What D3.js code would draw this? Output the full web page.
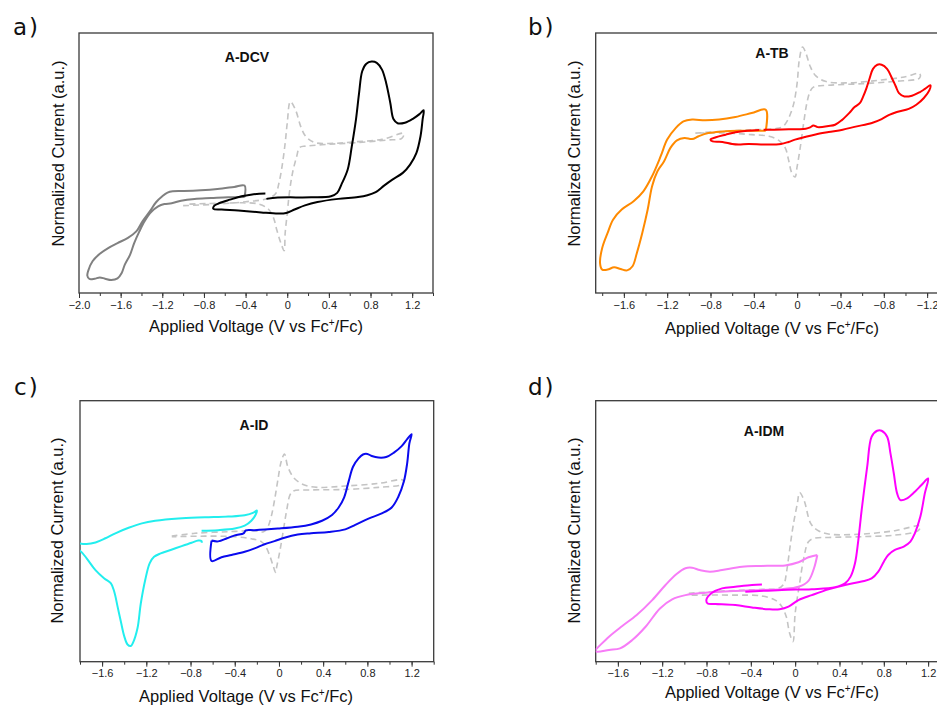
<!DOCTYPE html>
<html><head><meta charset="utf-8">
<script src="https://cdn.jsdelivr.net/npm/d3@7"></script>
<style>body{margin:0;background:#fff} svg{display:block}</style>
</head><body><svg id="chart" width="937" height="707"></svg>
<script>
// ---------- data (V vs Fc+/Fc, normalized current a.u.) ----------
const panelLabels = ["a)", "b)", "c)", "d)"];
const compounds = ["A-DCV", "A-TB", "A-ID", "A-IDM"];
const xTitle = "Applied Voltage (V vs Fc";
const yTitle = "Normalized Current (a.u.)";

const majorTicksA = [-2.0, -1.6, -1.2, -0.8, -0.4, 0, 0.4, 0.8, 1.2];
const tickLabelsA = ["\u22122.0", "\u22121.6", "\u22121.2", "\u22120.8", "\u22120.4", "0", "0.4", "0.8", "1.2"];
const majorTicksB = [-1.6, -1.2, -0.8, -0.4, 0, 0.4, 0.8, 1.2];
const tickLabelsB = ["\u22121.6", "\u22121.2", "\u22120.8", "\u22120.4", "0", "\u22120.4", "\u22120.8", "\u22121.2"];
const majorTicksCD = [-1.6, -1.2, -0.8, -0.4, 0, 0.4, 0.8, 1.2];
const tickLabelsCD = ["\u22121.6", "\u22121.2", "\u22120.8", "\u22120.4", "0", "0.4", "0.8", "1.2"];

// Panel a: A-DCV
const aOxidation = [[-0.20,36.2],[-0.09,36.7],[0.23,36.8],[0.42,37.2],[0.48,38.5],[0.52,41.7],[0.58,47.4],[0.62,56.4],[0.66,66.7],[0.69,76.9],[0.72,85.3],[0.76,88.2],[0.81,89.0],[0.86,88.5],[0.91,85.9],[0.95,80.8],[0.99,73.1],[1.02,66.9],[1.06,65.3],[1.13,65.5],[1.21,67.1],[1.27,68.8],[1.31,70.3],[1.30,66.7],[1.28,60.3],[1.24,53.8],[1.18,49.4],[1.11,46.2],[1.01,43.6],[0.93,41.3],[0.85,38.8],[0.77,37.6],[0.68,36.9],[0.49,36.2],[0.29,35.0],[0.17,33.7],[0.07,32.1],[-0.01,30.8],[-0.09,30.6],[-0.25,31.0],[-0.47,31.7],[-0.63,32.1],[-0.71,32.4],[-0.70,33.6],[-0.65,34.6],[-0.55,35.9],[-0.44,37.2],[-0.35,37.8],[-0.27,38.2],[-0.21,38.3]];
const aReduction = [[-0.41,36.9],[-0.41,41.3],[-0.51,40.8],[-0.67,40.0],[-0.83,39.5],[-0.99,39.2],[-1.10,39.1],[-1.15,38.6],[-1.20,37.2],[-1.26,34.9],[-1.32,31.4],[-1.39,27.6],[-1.45,23.7],[-1.53,21.2],[-1.63,19.2],[-1.72,17.3],[-1.80,15.1],[-1.87,12.2],[-1.91,8.7],[-1.92,6.7],[-1.90,5.4],[-1.85,5.5],[-1.80,6.0],[-1.75,5.5],[-1.69,5.0],[-1.63,5.6],[-1.59,7.7],[-1.56,10.9],[-1.51,14.7],[-1.47,19.2],[-1.42,23.7],[-1.37,27.6],[-1.31,31.0],[-1.24,33.3],[-1.18,34.2],[-1.11,34.5],[-1.02,35.5],[-0.89,36.2],[-0.73,36.5],[-0.57,36.8],[-0.41,36.9]];
const aFerrocene = [[-1.00,33.6],[-0.66,34.2],[-0.40,35.1],[-0.18,36.4],[-0.11,38.3],[-0.08,42.2],[-0.05,48.6],[-0.02,57.6],[0.00,65.3],[0.03,73.6],[0.08,70.4],[0.13,64.0],[0.18,60.1],[0.27,57.8],[0.46,57.6],[0.66,58.2],[0.91,59.1],[1.12,61.4],[1.10,59.5],[0.95,58.8],[0.66,57.8],[0.40,57.2],[0.18,56.5],[0.12,56.0],[0.09,52.4],[0.05,46.0],[0.02,38.3],[0.00,30.6],[-0.02,23.0],[-0.03,16.3],[-0.06,19.1],[-0.10,24.2],[-0.13,28.7],[-0.18,32.2],[-0.27,34.2],[-0.43,34.7],[-0.66,34.5],[-0.94,34.2]];

// Panel b: A-TB
const bOxidation = [[-0.31,62.8],[-0.14,62.9],[0.08,63.2],[0.12,63.7],[0.15,64.4],[0.19,63.8],[0.29,64.2],[0.35,64.7],[0.41,66.4],[0.48,69.2],[0.53,71.5],[0.58,73.1],[0.61,75.6],[0.64,78.8],[0.67,82.7],[0.70,86.2],[0.74,87.8],[0.78,87.8],[0.83,86.2],[0.87,83.1],[0.91,79.5],[0.94,76.9],[0.99,75.6],[1.06,75.9],[1.13,77.2],[1.18,78.5],[1.23,79.9],[1.22,77.9],[1.17,75.0],[1.10,72.4],[1.03,70.8],[0.92,69.6],[0.85,68.5],[0.78,66.9],[0.69,65.4],[0.54,64.0],[0.42,62.8],[0.29,61.9],[0.17,61.0],[0.07,60.0],[-0.02,59.0],[-0.08,58.1],[-0.15,57.3],[-0.29,57.1],[-0.45,57.3],[-0.54,57.1],[-0.60,57.3],[-0.69,58.1],[-0.78,58.3],[-0.80,59.0],[-0.75,59.9],[-0.66,60.9],[-0.57,61.8],[-0.46,62.4],[-0.35,62.7]];
const bReduction = [[-0.29,62.4],[-0.29,70.5],[-0.42,69.2],[-0.57,67.7],[-0.72,66.7],[-0.85,66.4],[-0.97,66.7],[-1.05,66.0],[-1.12,63.5],[-1.20,59.0],[-1.26,52.6],[-1.34,44.9],[-1.42,39.1],[-1.51,35.3],[-1.62,32.1],[-1.70,28.2],[-1.75,23.1],[-1.80,17.3],[-1.82,11.5],[-1.80,9.0],[-1.75,9.0],[-1.69,9.9],[-1.63,9.2],[-1.57,8.7],[-1.52,10.3],[-1.48,15.4],[-1.43,23.1],[-1.38,32.1],[-1.34,41.0],[-1.29,46.8],[-1.23,50.6],[-1.17,55.8],[-1.11,58.7],[-1.04,59.6],[-0.97,59.2],[-0.91,60.3],[-0.82,61.5],[-0.69,62.1],[-0.54,62.4],[-0.29,62.4]];
const bFerrocene = [[-0.94,61.5],[-0.69,62.2],[-0.42,62.8],[-0.20,63.2],[-0.13,64.1],[-0.09,66.3],[-0.06,69.1],[-0.03,73.1],[0.00,80.8],[0.02,89.7],[0.05,94.6],[0.08,92.3],[0.12,87.2],[0.17,83.6],[0.26,81.4],[0.45,80.8],[0.75,81.8],[0.99,83.1],[1.13,84.4],[1.13,82.7],[0.90,81.4],[0.60,80.5],[0.29,79.9],[0.15,79.2],[0.12,77.6],[0.09,73.1],[0.06,65.4],[0.03,56.4],[0.00,48.7],[-0.02,44.6],[-0.05,46.2],[-0.08,51.3],[-0.11,55.8],[-0.17,58.7],[-0.26,60.3],[-0.42,60.9],[-0.63,61.5],[-0.94,61.5]];

// Panel c: A-ID
const cOxidation = [[-0.61,46.4],[-0.55,46.1],[-0.47,47.3],[-0.40,48.4],[-0.32,49.2],[-0.31,49.7],[-0.30,50.3],[-0.22,50.4],[-0.01,51.0],[0.17,51.7],[0.29,52.6],[0.39,54.0],[0.48,56.2],[0.54,59.1],[0.59,63.0],[0.63,69.0],[0.67,74.7],[0.72,77.9],[0.76,79.4],[0.80,79.6],[0.84,78.8],[0.90,78.2],[0.97,78.4],[1.04,80.1],[1.11,82.6],[1.16,85.3],[1.20,87.2],[1.18,83.7],[1.16,76.0],[1.13,69.0],[1.08,63.2],[1.02,59.1],[0.93,56.8],[0.81,54.8],[0.69,52.4],[0.60,50.7],[0.45,49.7],[0.29,49.2],[0.17,48.7],[0.05,47.5],[-0.04,46.2],[-0.13,45.0],[-0.22,43.4],[-0.31,42.1],[-0.43,40.9],[-0.52,40.0],[-0.61,38.6],[-0.61,46.4]];
const cReduction = [[-0.70,50.2],[-0.55,50.4],[-0.40,51.0],[-0.31,52.1],[-0.25,54.0],[-0.21,56.4],[-0.20,57.9],[-0.23,57.1],[-0.31,56.1],[-0.46,55.6],[-0.67,55.3],[-0.91,54.9],[-1.12,54.0],[-1.24,53.0],[-1.36,51.3],[-1.48,49.2],[-1.57,47.3],[-1.66,45.7],[-1.74,45.1],[-1.80,45.3],[-1.86,46.0],[-1.88,44.5],[-1.86,43.4],[-1.80,42.5],[-1.74,39.6],[-1.66,35.1],[-1.58,31.9],[-1.52,30.0],[-1.49,26.8],[-1.46,21.1],[-1.43,15.3],[-1.40,9.8],[-1.37,6.6],[-1.34,6.0],[-1.32,7.3],[-1.28,12.8],[-1.25,22.3],[-1.21,31.3],[-1.17,37.7],[-1.13,40.2],[-1.07,41.5],[-0.98,42.8],[-0.88,44.3],[-0.79,45.6],[-0.73,46.4],[-0.70,46.2],[-0.70,45.6]];
const cFerrocene = [[-0.97,48.1],[-0.76,49.2],[-0.46,49.8],[-0.22,50.2],[-0.14,49.8],[-0.10,51.7],[-0.07,55.6],[-0.04,61.9],[-0.01,69.6],[0.02,76.6],[0.05,79.6],[0.08,74.7],[0.14,70.2],[0.23,67.7],[0.35,66.8],[0.60,67.3],[0.90,68.3],[1.12,69.6],[1.12,68.1],[0.90,66.8],[0.60,66.0],[0.29,65.8],[0.13,65.4],[0.10,63.9],[0.07,58.1],[0.04,50.4],[0.01,42.8],[-0.02,36.4],[-0.03,34.2],[-0.05,36.4],[-0.08,40.2],[-0.12,44.1],[-0.16,46.0],[-0.25,47.1],[-0.40,47.9],[-0.67,48.1],[-0.97,47.9]];

// Panel d: A-IDM
const dOxidation = [[-0.30,29.6],[-0.39,29.4],[-0.54,28.7],[-0.66,28.1],[-0.75,26.4],[-0.80,23.9],[-0.79,22.3],[-0.72,22.1],[-0.54,21.7],[-0.39,20.8],[-0.24,20.1],[-0.14,20.1],[-0.06,21.1],[0.03,23.6],[0.15,25.5],[0.30,27.7],[0.45,29.4],[0.60,30.7],[0.69,31.9],[0.75,34.5],[0.80,38.3],[0.84,40.9],[0.90,42.8],[0.98,44.1],[1.04,46.0],[1.08,49.2],[1.13,55.6],[1.17,64.5],[1.20,70.2],[1.14,67.7],[1.08,65.1],[1.01,62.6],[0.95,61.9],[0.92,64.5],[0.89,72.2],[0.86,79.8],[0.83,86.2],[0.78,88.5],[0.74,88.5],[0.69,86.2],[0.65,74.7],[0.60,58.1],[0.57,46.6],[0.54,37.7],[0.50,32.6],[0.45,30.0],[0.36,28.5],[0.15,27.8],[-0.12,27.5],[-0.45,26.8]];
const dReduction = [[0.20,40.9],[0.12,40.0],[0.03,38.1],[-0.09,36.9],[-0.30,36.7],[-0.48,36.4],[-0.66,35.1],[-0.77,34.5],[-0.86,35.1],[-0.93,36.0],[-0.99,35.8],[-1.07,33.6],[-1.17,29.4],[-1.29,23.6],[-1.43,17.9],[-1.56,13.7],[-1.68,9.6],[-1.79,5.1],[-1.81,4.4],[-1.79,3.8],[-1.68,4.5],[-1.58,5.1],[-1.47,8.3],[-1.35,13.4],[-1.22,20.4],[-1.11,23.9],[-0.99,25.5],[-0.81,26.4],[-0.54,27.1],[-0.30,27.5],[-0.12,27.8],[0.03,28.7],[0.12,31.0],[0.17,35.8],[0.20,40.9]];
const dFerrocene = [[-0.96,26.2],[-0.60,27.2],[-0.30,27.7],[-0.15,28.1],[-0.10,30.0],[-0.08,33.8],[-0.05,42.8],[-0.02,51.7],[0.02,60.7],[0.04,64.8],[0.08,61.9],[0.14,53.0],[0.20,50.4],[0.30,48.9],[0.60,48.9],[0.90,50.2],[1.13,52.0],[1.11,50.2],[0.90,48.5],[0.60,47.9],[0.30,47.6],[0.17,47.3],[0.12,46.0],[0.08,40.2],[0.04,30.0],[0.00,18.5],[-0.02,7.7],[-0.05,10.9],[-0.08,17.2],[-0.12,21.1],[-0.18,23.6],[-0.30,25.2],[-0.54,25.5],[-0.96,25.5]];

// ---------- layout ----------
const panels = [
  {label: panelLabels[0], name: compounds[0], xDom: [-2.0, 1.4], left: 79, right: 433, top: 33, bottom: 293,
   ticks: majorTicksA, tickLabels: tickLabelsA, ox: aOxidation, red: aReduction, fc: aFerrocene,
   oxColor: "#000000", redColor: "#808080", lab: [13, 35], yT: [58, 153.5], xT: [256, 332], nm: [247, 62]},
  {label: panelLabels[1], name: compounds[1], xDom: [-1.86, 1.4], left: 595.7, right: 948.8, top: 33, bottom: 293,
   ticks: majorTicksB, tickLabels: tickLabelsB, ox: bOxidation, red: bReduction, fc: bFerrocene,
   oxColor: "#ff0000", redColor: "#ff8a00", lab: [528, 35], yT: [574, 153.5], xT: [772, 334], nm: [772, 58]},
  {label: panelLabels[2], name: compounds[2], xDom: [-1.8, 1.4], left: 80, right: 433.7, top: 400.7, bottom: 661.7,
   ticks: majorTicksCD, tickLabels: tickLabelsCD, ox: cOxidation, red: cReduction, fc: cFerrocene,
   oxColor: "#0a0aee", redColor: "#22eeee", lab: [14, 395], yT: [57, 530.5], xT: [246, 702], nm: [254, 430]},
  {label: panelLabels[3], name: compounds[3], xDom: [-1.8, 1.4], left: 595.7, right: 950.3, top: 400.7, bottom: 661.7,
   ticks: majorTicksCD, tickLabels: tickLabelsCD, ox: dOxidation, red: dReduction, fc: dFerrocene,
   oxColor: "#ff00ff", redColor: "#f77cf7", lab: [528, 395], yT: [574, 530.5], xT: [772, 698], nm: [764, 436]}
];

const svg = d3.select("#chart");
const sans = "'Liberation Sans', Arial, sans-serif";

panels.forEach((p, i) => {
  const x = d3.scaleLinear().domain(p.xDom).range([p.left, p.right]);
  const y = d3.scaleLinear().domain([0, 100]).range([p.bottom, p.top]);
  const g = svg.append("g");

  const clipId = "clip" + i;
  svg.append("defs").append("clipPath").attr("id", clipId)
    .append("rect").attr("x", p.left).attr("y", p.top)
    .attr("width", p.right - p.left).attr("height", p.bottom - p.top);

  // minor ticks
  const minor = d3.range(Math.ceil(p.xDom[0] * 5 - 1e-6), Math.floor(p.xDom[1] * 5 + 1e-6) + 1).map(k => k / 5);
  g.append("g").attr("transform", `translate(0,${p.bottom})`)
    .call(d3.axisBottom(x).tickValues(minor).tickSize(3).tickSizeOuter(0).tickFormat(""))
    .call(a => a.select(".domain").remove())
    .call(a => a.selectAll("line").attr("stroke", "#333").attr("stroke-width", 1));

  // major ticks
  g.append("g").attr("transform", `translate(0,${p.bottom})`)
    .call(d3.axisBottom(x).tickValues(p.ticks).tickSize(5).tickSizeOuter(0)
      .tickFormat((d, k) => p.tickLabels[k]))
    .call(a => a.select(".domain").remove())
    .call(a => a.selectAll("line").attr("stroke", "#333").attr("stroke-width", 1))
    .call(a => a.selectAll("text").attr("font-family", sans).attr("font-size", 11).attr("fill", "#222"));

  // frame
  g.append("rect").attr("x", p.left).attr("y", p.top)
    .attr("width", p.right - p.left).attr("height", p.bottom - p.top)
    .attr("fill", "none").attr("stroke", "#3a3a3a").attr("stroke-width", 1.3);

  const line = d3.line().x(d => x(d[0])).y(d => y(d[1])).curve(d3.curveCatmullRom.alpha(0.5));
  const curves = g.append("g").attr("clip-path", `url(#${clipId})`);

  curves.append("path").attr("d", line(p.fc)).attr("fill", "none")
    .attr("stroke", "#c4c4c4").attr("stroke-width", 1.6).attr("stroke-dasharray", "6,4");
  curves.append("path").attr("d", line(p.red)).attr("fill", "none")
    .attr("stroke", p.redColor).attr("stroke-width", 2).attr("stroke-linejoin", "round");
  curves.append("path").attr("d", line(p.ox)).attr("fill", "none")
    .attr("stroke", p.oxColor).attr("stroke-width", 2).attr("stroke-linejoin", "round");

  // compound name
  g.append("text").attr("x", p.nm[0]).attr("y", p.nm[1]).attr("text-anchor", "middle")
    .attr("font-family", sans).attr("font-weight", "bold").attr("font-size", 14).attr("fill", "#111")
    .text(p.name);

  // panel label
  g.append("text").attr("x", p.lab[0]).attr("y", p.lab[1])
    .attr("font-family", "'DejaVu Sans', Verdana, sans-serif").attr("font-size", 23)
    .attr("letter-spacing", 2).attr("fill", "#111").text(p.label);

  // y title
  g.append("text").attr("transform", `translate(${p.yT[0]},${p.yT[1]}) rotate(-90)`)
    .attr("dy", "0.35em").attr("text-anchor", "middle")
    .attr("font-family", sans).attr("font-size", 16.5).attr("fill", "#111").text(yTitle);

  // x title with superscript
  const xt = g.append("text").attr("x", p.xT[0]).attr("y", p.xT[1]).attr("text-anchor", "middle")
    .attr("font-family", sans).attr("font-size", 16.5).attr("fill", "#111");
  xt.append("tspan").text(xTitle);
  xt.append("tspan").attr("dy", -6).attr("font-size", 10).text("+");
  xt.append("tspan").attr("dy", 6).text("/Fc)");
});
</script></body></html>
